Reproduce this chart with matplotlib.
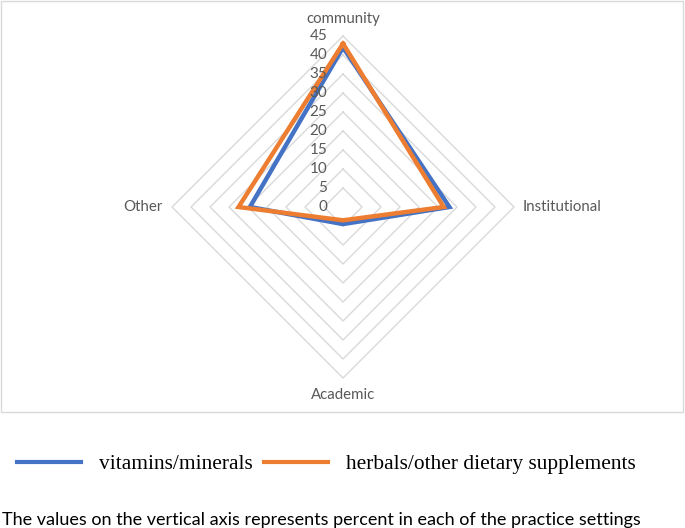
import numpy as np
import matplotlib
matplotlib.use("Agg")
from matplotlib import pyplot as plt
from matplotlib.patches import Rectangle

categories = ["community", "Institutional", "Academic", "Other"]
vitamins = [42, 28, 4.5, 24.5]
herbals = [43, 26.5, 3.5, 27.5]
ticks = [0, 5, 10, 15, 20, 25, 30, 35, 40, 45]
series_names = ["vitamins/minerals", "herbals/other dietary supplements"]
footnote = "The values on the vertical axis represents percent in each of the practice settings"

BLUE = "#4472C4"
ORANGE = "#ED7D31"
GRID = "#d9d9d9"
LABEL = "#595959"

fig = plt.figure(figsize=(6.85, 5.28), dpi=100)
ax = fig.add_axes([0.2511, 0.2841, 0.4993, 0.6477], projection="polar")
ax.set_theta_offset(np.pi / 2)
ax.set_theta_direction(-1)
ax.set_ylim(0, 45)
ax.grid(False)
ax.spines["polar"].set_visible(False)
ax.set_xticks([])
ax.set_yticks([])
ax.patch.set_alpha(0)

angles = np.linspace(0, 2 * np.pi, len(categories), endpoint=False)
closed = np.append(angles, angles[0])

# diamond grid
for r in ticks[1:]:
    ax.plot(closed, [r] * len(closed), color=GRID, lw=1, clip_on=False, zorder=1)

for vals, col, name in ((vitamins, BLUE, series_names[0]), (herbals, ORANGE, series_names[1])):
    ax.plot(closed, vals + vals[:1], color=col, lw=3.2, clip_on=False, zorder=3,
            label=name, solid_joinstyle="miter")

for r in ticks:
    ax.annotate(str(r), xy=(0, r), xytext=(-11.5, 0), textcoords="offset points",
                ha="right", va="center", fontsize=11, color=LABEL, family="Lato")

label_pos = [(0, 7, "center", "bottom"), (6.5, 0, "left", "center"),
             (0, -7, "center", "top"), (-6.5, 0, "right", "center")]
for ang, cat, (dx, dy, ha, va) in zip(angles, categories, label_pos):
    ax.annotate(cat, xy=(ang, 45), xytext=(dx, dy), textcoords="offset points",
                ha=ha, va=va, fontsize=10.8, color=LABEL, family="Lato")

fig.patches.append(Rectangle((0.0015, 0.2197), 0.9955, 0.779, transform=fig.transFigure,
                             fill=False, edgecolor=GRID, lw=1))

leg = fig.legend(loc="center left", bbox_to_anchor=(0.025, 1 - 464 / 528), ncol=2, frameon=False,
                 prop={"family": "Liberation Serif", "size": 15.4}, handlelength=3.0,
                 handletextpad=0.85, columnspacing=0.5, borderaxespad=0, borderpad=0)
for h in leg.get_lines():
    h.set_linewidth(3)

fig.text(0.003, 1 - 520 / 528, footnote, ha="left", va="center", fontsize=13, family="Lato")

fig.savefig("out.png", dpi=100)
